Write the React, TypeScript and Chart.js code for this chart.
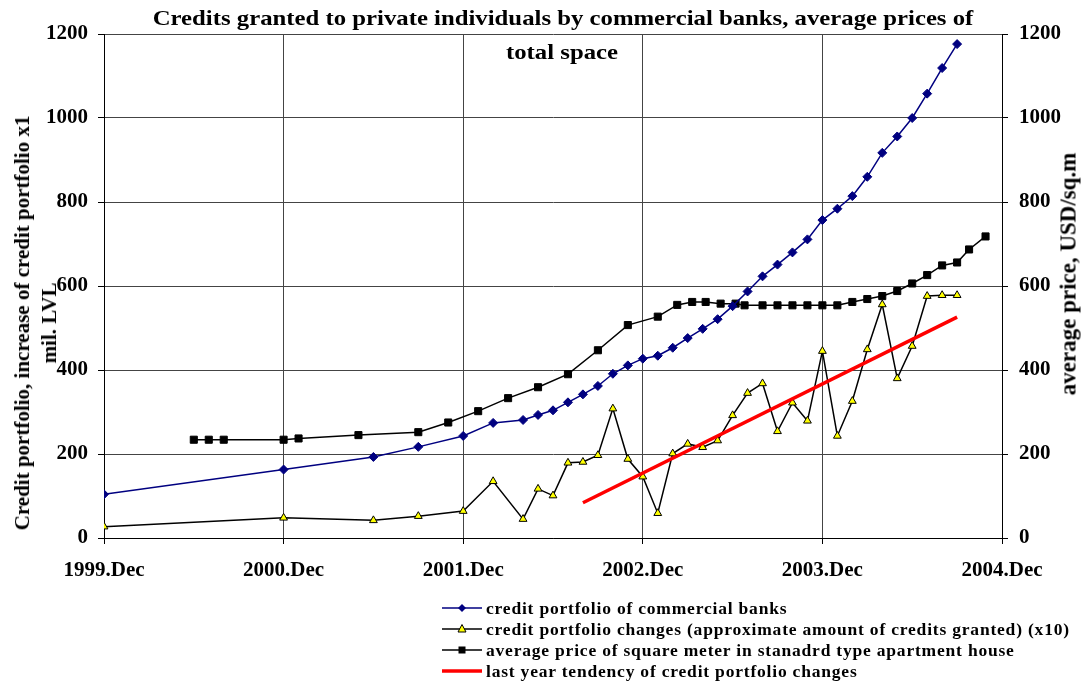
import React, { useEffect, useRef } from "react";
import { Chart, registerables } from "chart.js";

Chart.register(...registerables);

const FONT = "'Liberation Serif', 'Times New Roman', serif";

const titleLines = [
  "Credits granted to private individuals by commercial banks, average prices of",
  "total space",
];
const leftAxisTitle = ["Credit portfolio, increase of credit portfolio x1", "mil. LVL"];
const rightAxisTitle = "average price, USD/sq.m";

const yearLabels = ["1999.Dec", "2000.Dec", "2001.Dec", "2002.Dec", "2003.Dec", "2004.Dec"];

const seriesNames = [
  "credit portfolio of commercial banks",
  "credit portfolio changes (approximate amount of credits granted) (x10)",
  "average price of square meter in stanadrd type apartment house",
  "last year tendency of credit portfolio changes",
];

// months counted from 1999.Dec
const creditMonths = [0, 12, 18, 21, 24, 26, 28, 29, 30, 31, 32, 33, 34, 35, 36, 37, 38, 39, 40, 41, 42, 43, 44, 45, 46, 47, 48, 49, 50, 51, 52, 53, 54, 55, 56, 57];
const creditValues = [104, 163, 193, 217, 243, 274, 281, 293, 304, 323, 342, 362, 391, 411, 427, 434, 453, 476, 498, 521, 552, 587, 623, 651, 680, 711, 757, 784, 814, 860, 917, 956, 1000, 1058, 1119, 1176];

const changesMonths = [0, 12, 18, 21, 24, 26, 28, 29, 30, 31, 32, 33, 34, 35, 36, 37, 38, 39, 40, 41, 42, 43, 44, 45, 46, 47, 48, 49, 50, 51, 52, 53, 54, 55, 56, 57];
const changesValues = [27, 48, 42, 52, 64, 135, 45, 117, 101, 179, 181, 197, 308, 188, 146, 59, 201, 224, 216, 232, 292, 345, 368, 254, 322, 279, 445, 243, 326, 449, 556, 380, 457, 576, 578, 578];

const priceMonths = [6, 7, 8, 12, 13, 17, 21, 23, 25, 27, 29, 31, 33, 35, 37, 38.3, 39.3, 40.2, 41.2, 42.2, 42.8, 44, 45, 46, 47, 48, 49, 50, 51, 52, 53, 54, 55, 56, 57, 57.8, 58.9];
const priceValues = [234, 234, 234, 234, 237, 245, 252, 275, 302, 333, 359, 390, 447, 507, 527, 555, 562, 562, 558, 558, 554, 554, 554, 554, 554, 554, 554, 562, 569, 576, 588, 606, 626, 649, 656, 687, 718];

const trendMonths = [32, 57];
const trendValues = [84, 526];

const toPoints = (xs: number[], ys: number[]) => xs.map((x, i) => ({ x, y: ys[i] }));

function LegendMarker({ kind }: { kind: number }) {
  const cy = 10;
  return (
    <svg width={46} height={20} style={{ display: "block" }}>
      {kind === 0 && (
        <>
          <line x1={2} y1={cy} x2={42} y2={cy} stroke="#000080" strokeWidth={1.5} />
          <polygon points={`22,${cy - 4} 26,${cy} 22,${cy + 4} 18,${cy}`} fill="#000080" />
        </>
      )}
      {kind === 1 && (
        <>
          <line x1={2} y1={cy} x2={42} y2={cy} stroke="#000" strokeWidth={1.5} />
          <polygon points={`22,${cy - 4.5} 26,${cy + 3} 18,${cy + 3}`} fill="#ffff00" stroke="#000" strokeWidth={1} />
        </>
      )}
      {kind === 2 && (
        <>
          <line x1={2} y1={cy} x2={42} y2={cy} stroke="#000" strokeWidth={1.5} />
          <rect x={18.5} y={cy - 3.5} width={7} height={7} fill="#000" />
        </>
      )}
      {kind === 3 && <line x1={2} y1={cy} x2={42} y2={cy} stroke="#ff0000" strokeWidth={3.5} />}
    </svg>
  );
}

export default function App() {
  const ref = useRef<HTMLCanvasElement>(null);

  useEffect(() => {
    const tickFont = { family: FONT, size: 21, weight: "bold" as const };
    const plainNumber = (v: any) => String(v);
    const chart = new Chart(ref.current as HTMLCanvasElement, {
      type: "line",
      data: {
        datasets: [
          {
            label: seriesNames[3],
            data: toPoints(trendMonths, trendValues),
            borderColor: "#ff0000",
            backgroundColor: "#ff0000",
            borderWidth: 3.5,
            pointRadius: 0,
            yAxisID: "y",
            order: 0,
          },
          {
            label: seriesNames[0],
            data: toPoints(creditMonths, creditValues),
            borderColor: "#000080",
            backgroundColor: "#000080",
            borderWidth: 1.5,
            pointStyle: "rectRot",
            pointRadius: 4.5,
            pointBorderWidth: 1,
            yAxisID: "y",
            order: 1,
          },
          {
            label: seriesNames[1],
            data: toPoints(changesMonths, changesValues),
            borderColor: "#000000",
            backgroundColor: "#ffff00",
            pointBackgroundColor: "#ffff00",
            pointBorderColor: "#000000",
            borderWidth: 1.5,
            pointStyle: "triangle",
            pointRadius: 4.5,
            pointBorderWidth: 1,
            yAxisID: "y",
            order: 2,
          },
          {
            label: seriesNames[2],
            data: toPoints(priceMonths, priceValues),
            borderColor: "#000000",
            backgroundColor: "#000000",
            borderWidth: 1.5,
            pointStyle: "rect",
            pointRadius: 5,
            pointBorderWidth: 1,
            yAxisID: "y1",
            order: 3,
          },
        ],
      },
      options: {
        responsive: false,
        animation: false,
        devicePixelRatio: 1,
        layout: { padding: { top: 34, left: 0, right: 0, bottom: 96 } },
        elements: { line: { tension: 0 } },
        plugins: {
          legend: { display: false },
          title: { display: false },
          tooltip: { enabled: false },
        },
        scales: {
          x: {
            type: "linear",
            min: 0,
            max: 60,
            afterFit: (s: any) => {
              s.height = 50;
            },
            ticks: {
              stepSize: 12,
              autoSkip: false,
              maxRotation: 0,
              padding: 14,
              font: tickFont,
              color: "#000",
              callback: (v: any) => yearLabels[Math.round(Number(v) / 12)] ?? "",
            },
            grid: { color: "#444", tickColor: "#000", tickLength: 6, lineWidth: 1 },
            border: { color: "#000", width: 1 },
          },
          y: {
            type: "linear",
            position: "left",
            min: 0,
            max: 1200,
            afterFit: (s: any) => {
              s.width = 104;
            },
            ticks: { stepSize: 200, padding: 10, font: tickFont, color: "#000", callback: plainNumber },
            grid: { color: "#444", tickColor: "#000", tickLength: 6, lineWidth: 1 },
            border: { color: "#000", width: 1 },
          },
          y1: {
            type: "linear",
            position: "right",
            min: 0,
            max: 1200,
            afterFit: (s: any) => {
              s.width = 86;
            },
            ticks: { stepSize: 200, padding: 11, font: tickFont, color: "#000", callback: plainNumber },
            grid: { drawOnChartArea: false, tickColor: "#000", tickLength: 6 },
            border: { color: "#000", width: 1 },
          },
        },
      },
    });
    return () => chart.destroy();
  }, []);

  const boldText: React.CSSProperties = {
    position: "absolute",
    fontFamily: FONT,
    fontWeight: "bold",
    color: "#000",
    whiteSpace: "nowrap",
  };

  const legendRowCenters = [607.5, 629, 650, 670.5];

  return (
    <div
      style={{
        position: "absolute",
        left: 0,
        top: 0,
        width: 1088,
        height: 684,
        overflow: "hidden",
        background: "#fff",
      }}
    >
      <canvas ref={ref} width={1088} height={684} style={{ position: "absolute", left: 0, top: 0, display: "block" }} />

      <div style={{ ...boldText, left: 563, top: 5, fontSize: 22, transform: "translateX(-50%) scaleX(1.125)" }}>
        {titleLines[0]}
      </div>
      <div style={{ ...boldText, left: 562, top: 39, fontSize: 22, transform: "translateX(-50%) scaleX(1.125)" }}>
        {titleLines[1]}
      </div>

      <div
        style={{
          ...boldText,
          left: 35.5,
          top: 323,
          fontSize: 21,
          lineHeight: "27px",
          textAlign: "center",
          transform: "translate(-50%, -50%) rotate(-90deg)",
        }}
      >
        <div>{leftAxisTitle[0]}</div>
        <div>{leftAxisTitle[1]}</div>
      </div>

      <div
        style={{
          ...boldText,
          left: 1067.5,
          top: 274,
          fontSize: 23,
          lineHeight: "25px",
          transform: "translate(-50%, -50%) rotate(-90deg)",
        }}
      >
        {rightAxisTitle}
      </div>

      {seriesNames.map((name, i) => (
        <div
          key={name}
          style={{
            position: "absolute",
            left: 440,
            top: legendRowCenters[i] - 11,
            height: 22,
            display: "flex",
            alignItems: "center",
          }}
        >
          <LegendMarker kind={i} />
          <span
            style={{
              fontFamily: FONT,
              fontWeight: "bold",
              fontSize: 17.5,
              letterSpacing: 0.8,
              lineHeight: "22px",
              whiteSpace: "nowrap",
            }}
          >
            {name}
          </span>
        </div>
      ))}
    </div>
  );
}
